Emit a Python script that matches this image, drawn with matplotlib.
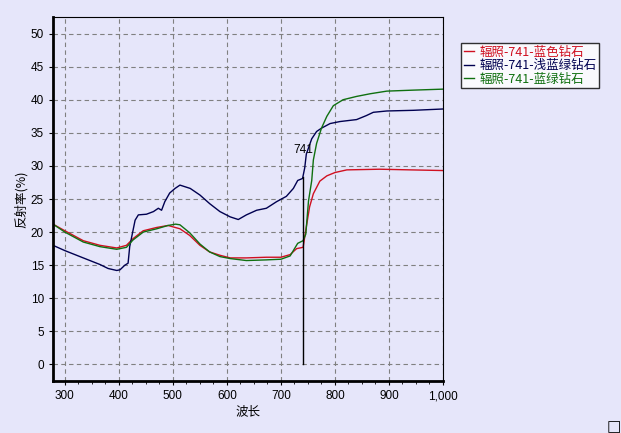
import matplotlib
matplotlib.use("Agg")
import matplotlib.pyplot as plt
from matplotlib.ticker import MultipleLocator, FuncFormatter

plt.rcParams['font.family'] = ['Noto Sans CJK SC', 'DejaVu Sans']

# reflectance curves
red_x = [278, 300, 334, 365, 396, 414, 426, 445, 470, 491, 513, 531, 550, 568, 587, 606,
         636, 673, 700, 717, 729, 741, 747, 753, 760, 772, 785, 800, 822, 883, 940, 1000]
red_y = [21.2, 20.2, 18.7, 18.0, 17.6, 18.0, 19.0, 20.2, 20.7, 21.0, 20.5, 19.5, 18.0, 17.0,
         16.5, 16.1, 16.1, 16.2, 16.2, 16.6, 17.5, 17.7, 20.8, 23.8, 25.8, 27.7, 28.5, 29.0,
         29.4, 29.5, 29.4, 29.3]

green_x = [278, 300, 334, 365, 396, 414, 426, 445, 470, 491, 505, 513, 531, 550, 568, 587,
           606, 636, 673, 700, 717, 731, 741, 746, 751, 757, 760, 766, 775, 785, 797, 815,
           840, 865, 896, 945, 1000]
green_y = [21.2, 20.0, 18.5, 17.8, 17.4, 17.7, 18.8, 20.0, 20.5, 21.0, 21.2, 21.1, 19.9, 18.2,
           17.0, 16.3, 16.0, 15.7, 15.8, 15.9, 16.4, 18.3, 18.7, 19.7, 24.7, 27.8, 30.9, 33.4,
           35.7, 37.5, 39.1, 40.0, 40.5, 40.9, 41.3, 41.45, 41.6]

navy_x = [278, 300, 334, 365, 380, 396, 402, 411, 417, 420, 430, 436, 451, 464, 473, 479,
          485, 494, 504, 513, 532, 550, 568, 587, 606, 621, 636, 655, 673, 692, 710, 723,
          731, 740, 744, 747, 757, 766, 775, 791, 809, 840, 858, 871, 896, 945, 1000]
navy_y = [18.0, 17.2, 16.1, 15.1, 14.5, 14.2, 14.3, 15.0, 15.3, 17.8, 21.8, 22.6, 22.7, 23.1,
          23.6, 23.3, 24.6, 25.9, 26.6, 27.1, 26.6, 25.6, 24.3, 23.1, 22.3, 21.9, 22.6, 23.3,
          23.6, 24.6, 25.4, 26.6, 27.8, 28.1, 29.7, 31.8, 34.1, 35.2, 35.7, 36.4, 36.7, 37.0,
          37.6, 38.1, 38.3, 38.4, 38.6]

labels = ['辐照-741-蓝色钻石', '辐照-741-浅蓝绿钻石', '辐照-741-蓝绿钻石']
colors = ['#d01020', '#000050', '#107010']
marker_x = 741
marker_top = 28.3

bg = '#e6e6fa'
fig = plt.figure(figsize=(6.21, 4.33), dpi=100, facecolor=bg)
ax = fig.add_axes([53 / 621, 1 - 381 / 433, 390 / 621, 364 / 433])
ax.set_facecolor(bg)

ax.plot(red_x, red_y, color=colors[0], lw=1, label=labels[0])
ax.plot(navy_x, navy_y, color=colors[1], lw=1, label=labels[1])
ax.plot(green_x, green_y, color=colors[2], lw=1, label=labels[2])

ax.plot([marker_x, marker_x], [0, marker_top], color='black', lw=1)
ax.text(marker_x, 32.4, str(marker_x), ha='center', va='center', fontsize=8.5,
        family=['Liberation Sans', 'DejaVu Sans'])

ax.set_xlim(278, 1000)
ax.set_ylim(-2.5, 52.5)
ax.xaxis.set_major_locator(MultipleLocator(100))
ax.xaxis.set_minor_locator(MultipleLocator(25))
ax.yaxis.set_major_locator(MultipleLocator(5))
ax.xaxis.set_major_formatter(FuncFormatter(lambda v, p: '{:,.0f}'.format(v)))
ax.grid(True, which='major', color='#808080', linestyle=(0, (4, 3)), lw=0.8)

for lab in ax.get_xticklabels() + ax.get_yticklabels():
    lab.set_family(['Liberation Sans', 'DejaVu Sans'])
    lab.set_fontsize(8.5)
ax.tick_params(which='major', length=3, color='black')
ax.tick_params(which='minor', length=2, color='black')

ax.spines['left'].set_linewidth(2)
ax.spines['bottom'].set_linewidth(2)
ax.spines['top'].set_linewidth(0.8)
ax.spines['right'].set_linewidth(0.8)

ax.set_xlabel('波长', fontsize=9, labelpad=2)
ax.set_ylabel('反射率(%)', fontsize=9, labelpad=2)

leg = fig.legend(loc='upper left', bbox_to_anchor=(461 / 621, 1 - 43 / 433), fontsize=9,
                 frameon=True, fancybox=False, handlelength=0.8, handletextpad=0.5,
                 borderpad=0.2, labelspacing=0.05, borderaxespad=0)
leg.get_frame().set_edgecolor('black')
leg.get_frame().set_facecolor('white')
leg.get_frame().set_linewidth(1)
for t, c in zip(leg.get_texts(), colors):
    t.set_color(c)

fig.text(614 / 621, 1 - 427 / 433, '□', ha='center', va='center', fontsize=11,
         family=['DejaVu Sans'])

fig.savefig('out.png', dpi=100, facecolor=bg)
